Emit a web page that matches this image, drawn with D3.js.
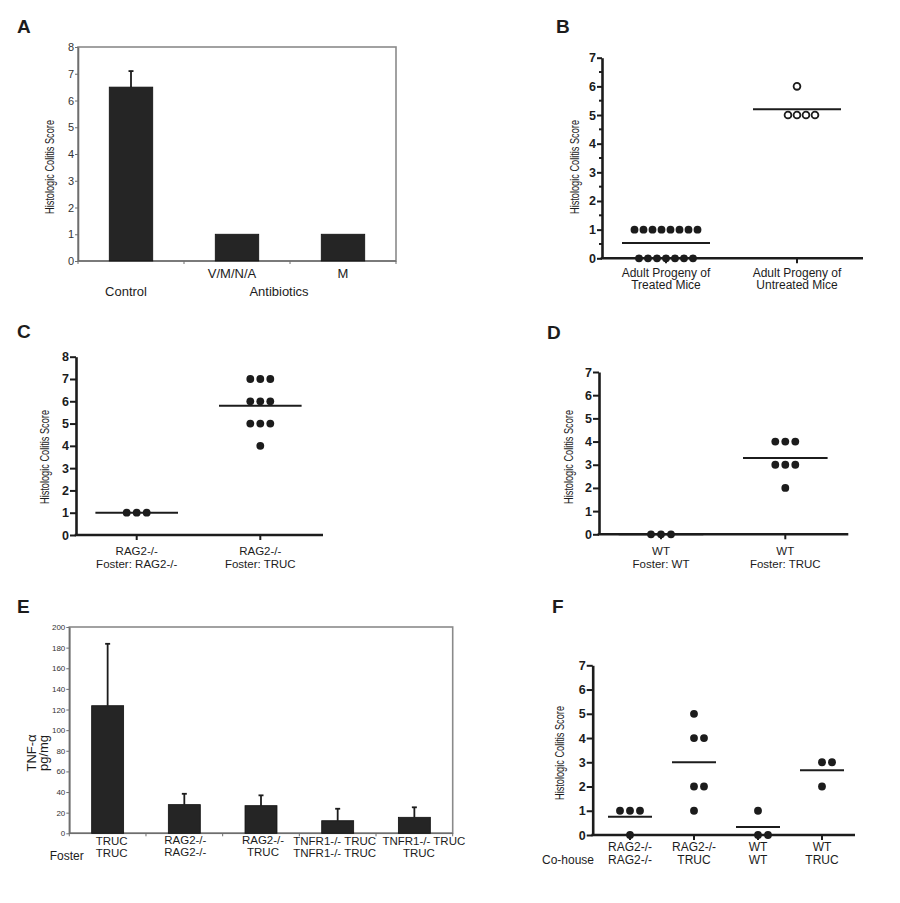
<!DOCTYPE html>
<html>
<head>
<meta charset="utf-8">
<script src="https://cdn.jsdelivr.net/npm/d3@7"></script>
<style>
  html, body { margin: 0; padding: 0; background: #fff; }
  svg { display: block; }
</style>
</head>
<body>
<svg id="chart" width="900" height="903"></svg>
<script>
// ---------------- DATA ----------------
// Panel A
const aCategories = ["Control", "V/M/N/A", "M"];
const aValues = [6.5, 1, 1];
const aErrors = [0.6, 0, 0];
const aTicks = [0, 1, 2, 3, 4, 5, 6, 7, 8];
// Panel B
const bCategories = ["Treated", "Untreated"];
const bLabels = [["Adult Progeny of", "Treated Mice"], ["Adult Progeny of", "Untreated Mice"]];
const bTreated = [1, 1, 1, 1, 1, 1, 1, 1, 0, 0, 0, 0, 0, 0, 0];
const bUntreated = [5, 5, 5, 5, 6];
const bTicks = [0, 1, 2, 3, 4, 5, 6, 7];
// Panel C
const cCategories = ["RAG2/RAG2", "RAG2/TRUC"];
const cLabels = [["RAG2-/-", "Foster: RAG2-/-"], ["RAG2-/-", "Foster: TRUC"]];
const cRag = [1, 1, 1];
const cTruc = [7, 7, 7, 6, 6, 6, 5, 5, 5, 4];
const cTicks = [0, 1, 2, 3, 4, 5, 6, 7, 8];
// Panel D
const dCategories = ["WT/WT", "WT/TRUC"];
const dLabels = [["WT", "Foster: WT"], ["WT", "Foster: TRUC"]];
const dWt = [0, 0, 0];
const dTruc = [4, 4, 4, 3, 3, 3, 2];
const dTicks = [0, 1, 2, 3, 4, 5, 6, 7];
// Panel E
const eCategories = ["TRUC|TRUC", "RAG2|RAG2", "RAG2|TRUC", "TNFR1|TNFR1", "TNFR1|TRUC"];
const eLabels = [["TRUC", "TRUC"], ["RAG2-/-", "RAG2-/-"], ["RAG2-/-", "TRUC"], ["TNFR1-/- TRUC", "TNFR1-/- TRUC"], ["TNFR1-/- TRUC", "TRUC"]];
const eValues = [123.7, 27.8, 26.8, 12.2, 15.5];
const eErrors = [60, 10.5, 10, 11.6, 9.7];
const eTicks = [0, 20, 40, 60, 80, 100, 120, 140, 160, 180, 200];
// Panel F
const fCategories = ["RAG2/RAG2", "RAG2/TRUC", "WT/WT", "WT/TRUC"];
const fLabels = [["RAG2-/-", "RAG2-/-"], ["RAG2-/-", "TRUC"], ["WT", "WT"], ["WT", "TRUC"]];
const fRagRag = [1, 1, 1, 0];
const fRagTruc = [5, 4, 4, 2, 2, 1];
const fWtWt = [1, 0, 0];
const fWtTruc = [3, 3, 2];
const fTicks = [0, 1, 2, 3, 4, 5, 6, 7];

// ---------------- DRAWING ----------------
const FONT = "'Liberation Sans', Arial, Helvetica, sans-serif";
const INK = "#1c1c1c";
const svg = d3.select("#chart");
svg.append("rect").attr("width", 900).attr("height", 903).attr("fill", "#fff");

function panelLetter(t, x, y) {
  svg.append("text").attr("x", x).attr("y", y).text(t)
    .attr("font-family", FONT).attr("font-weight", "bold").attr("font-size", 19).attr("fill", INK);
}

function rotLabel(lines, x, y, size, len) {
  lines.forEach((l, i) => {
    const t = svg.append("text")
      .attr("transform", `translate(${x[i]},${y}) rotate(-90)`)
      .attr("text-anchor", "middle").attr("dominant-baseline", "central")
      .attr("font-family", FONT).attr("font-size", size).attr("fill", INK).text(l);
    if (len) t.attr("textLength", len).attr("lengthAdjust", "spacingAndGlyphs");
  });
}

function layoutRow(values, cx, spacing) {
  const byVal = d3.group(values, v => v);
  const pts = [];
  byVal.forEach((arr, v) => {
    const n = arr.length;
    arr.forEach((_, i) => {
      const k = n >= 5 ? i - (n - 1) / 2 : i - Math.floor((n - 1) / 2);
      pts.push({ v, x: cx + k * spacing });
    });
  });
  return pts;
}

// Scatter (GraphPad-like) panel
function scatterPanel(o) {
  const y = d3.scaleLinear().domain([0, o.max]).range([o.yBottom, o.yTop]);
  const x = d3.scalePoint().domain(o.cats).range(o.catRange).padding(0);
  const g = svg.append("g");
  const ax = d3.axisLeft(y).tickValues(o.ticks).tickSize(o.tickSize).tickSizeOuter(0)
    .tickPadding(1).tickFormat(d3.format("d"));
  const ga = g.append("g").attr("transform", `translate(${o.axisX},0)`).call(ax);
  ga.select(".domain").attr("stroke", INK).attr("stroke-width", 2.6);
  ga.selectAll(".tick line").attr("stroke", INK).attr("stroke-width", 2);
  ga.selectAll(".tick text").attr("font-family", FONT).attr("font-weight", "bold")
    .attr("font-size", 12.5).attr("fill", INK);
  if (o.minor) {
    const mticks = d3.range(0.5, o.max, 1);
    g.selectAll(".minor").data(mticks).join("line")
      .attr("x1", o.axisX - 3).attr("x2", o.axisX).attr("y1", d => y(d)).attr("y2", d => y(d))
      .attr("stroke", INK).attr("stroke-width", 2);
  }
  g.append("line").attr("x1", o.axisX - 1.3).attr("x2", o.xEnd)
    .attr("y1", y(0)).attr("y2", y(0)).attr("stroke", INK).attr("stroke-width", 2.6);
  g.selectAll(".ctick").data(o.cats).join("line")
    .attr("x1", d => x(d)).attr("x2", d => x(d)).attr("y1", y(0)).attr("y2", y(0) + 5)
    .attr("stroke", INK).attr("stroke-width", 2);
  o.groups.forEach((grp, gi) => {
    const cx = x(o.cats[gi]);
    const pts = layoutRow(grp, cx, o.spacing);
    const open = o.open && o.open[gi];
    g.selectAll(null).data(pts).join("circle")
      .attr("cx", d => d.x).attr("cy", d => y(d.v)).attr("r", open ? 3.4 : 3.9)
      .attr("fill", open ? "#fff" : INK)
      .attr("stroke", INK).attr("stroke-width", open ? 1.8 : 0);
    const m = d3.mean(grp);
    g.append("line").attr("x1", cx - o.meanHalf).attr("x2", cx + o.meanHalf)
      .attr("y1", y(m)).attr("y2", y(m)).attr("stroke", INK).attr("stroke-width", 2);
  });
  o.labels.forEach((lines, i) => {
    lines.forEach((l, j) => {
      g.append("text").attr("x", x(o.cats[i])).attr("y", o.labelY[j])
        .attr("text-anchor", "middle").attr("font-family", FONT).attr("font-size", o.labelSize)
        .attr("fill", INK).text(l);
    });
  });
  rotLabel(["Histologic Colitis Score"], [o.yLabelX], o.yLabelY, 12.5, 94);
  return { x, y };
}

// Bar panel (Excel-like)
function barPanel(o) {
  const y = d3.scaleLinear().domain([0, o.max]).range([o.y1, o.y0]);
  const x = d3.scaleBand().domain(o.cats).range([o.x0, o.x1]).paddingInner(o.pad).paddingOuter(o.pad / 2);
  const g = svg.append("g");
  g.append("rect").attr("x", o.x0).attr("y", o.y0).attr("width", o.x1 - o.x0).attr("height", o.y1 - o.y0)
    .attr("fill", "none").attr("stroke", "#8a8a8a").attr("stroke-width", 1.6);
  const ax = d3.axisLeft(y).tickValues(o.ticks).tickSize(3).tickSizeOuter(0).tickPadding(1);
  const ga = g.append("g").attr("transform", `translate(${o.x0},0)`).call(ax);
  ga.select(".domain").attr("stroke", "#6e6e6e").attr("stroke-width", 1.6);
  ga.selectAll(".tick line").attr("stroke", "#6e6e6e").attr("stroke-width", 1);
  ga.selectAll(".tick text").attr("font-family", FONT).attr("font-size", o.tickFont).attr("fill", "#333");
  g.append("line").attr("x1", o.x0).attr("x2", o.x1).attr("y1", o.y1).attr("y2", o.y1)
    .attr("stroke", "#6e6e6e").attr("stroke-width", 1.6);
  const edges = d3.range(o.cats.length + 1).map(i => o.x0 + i * x.step());
  g.selectAll(".edge").data(edges).join("line")
    .attr("x1", d => d).attr("x2", d => d).attr("y1", o.y1).attr("y2", o.y1 + 3)
    .attr("stroke", "#6e6e6e").attr("stroke-width", 1);
  o.cats.forEach((c, i) => {
    if (o.errors[i] > 0) {
      const cx = x(c) + x.bandwidth() / 2;
      g.append("line").attr("x1", cx).attr("x2", cx).attr("y1", y(o.values[i]))
        .attr("y2", y(o.values[i] + o.errors[i])).attr("stroke", INK).attr("stroke-width", 1.8);
      g.append("line").attr("x1", cx - 2.5).attr("x2", cx + 2.5)
        .attr("y1", y(o.values[i] + o.errors[i])).attr("y2", y(o.values[i] + o.errors[i]))
        .attr("stroke", INK).attr("stroke-width", 1.8);
    }
  });
  g.selectAll(".bar").data(o.values).join("rect")
    .attr("x", (d, i) => x(o.cats[i])).attr("width", x.bandwidth())
    .attr("y", d => y(d)).attr("height", d => y(0) - y(d))
    .attr("fill", "#252525").attr("stroke", "#111").attr("stroke-width", 0.8);
  return { x, y };
}

// ---- Panel A ----
panelLetter("A", 17, 33);
const A = barPanel({ x0: 78, x1: 396, y0: 47, y1: 261, max: 8, cats: aCategories, values: aValues,
  errors: aErrors, ticks: aTicks, pad: 0.59, tickFont: 11 });
const aCx = c => A.x(c) + A.x.bandwidth() / 2;
[["V/M/N/A", aCx("V/M/N/A") - 5, 278], ["M", aCx("M"), 278],
 ["Control", aCx("Control") - 5, 296], ["Antibiotics", (aCx("V/M/N/A") + aCx("M")) / 2 - 11, 296]]
  .forEach(([t, xx, yy]) => svg.append("text").attr("x", xx).attr("y", yy).attr("text-anchor", "middle")
    .attr("font-family", FONT).attr("font-size", 13).attr("fill", INK).text(t));
rotLabel(["Histologic Colitis Score"], [50], 167, 12.5, 94);

// ---- Panel B ----
panelLetter("B", 556, 33);
scatterPanel({ axisX: 602, xEnd: 863, yTop: 57.7, yBottom: 258.3, max: 7, ticks: bTicks,
  cats: bCategories, catRange: [666, 797], groups: [bTreated, bUntreated], open: [false, true],
  spacing: 9, meanHalf: 44, tickSize: 5, minor: true, labels: bLabels, labelY: [276.5, 289],
  labelSize: 12, yLabelX: 575, yLabelY: 167 });

// ---- Panel C ----
panelLetter("C", 17, 338);
scatterPanel({ axisX: 76, xEnd: 323, yTop: 356.7, yBottom: 535, max: 8, ticks: cTicks,
  cats: cCategories, catRange: [136.7, 260.3], groups: [cRag, cTruc],
  spacing: 10, meanHalf: 41.3, tickSize: 6, minor: false, labels: cLabels, labelY: [555, 567.5],
  labelSize: 11.5, yLabelX: 45, yLabelY: 457 });

// ---- Panel D ----
panelLetter("D", 547, 339);
scatterPanel({ axisX: 599, xEnd: 848.3, yTop: 372, yBottom: 534.3, max: 7, ticks: dTicks,
  cats: dCategories, catRange: [661, 785.3], groups: [dWt, dTruc],
  spacing: 10, meanHalf: 42.3, tickSize: 6, minor: false, labels: dLabels, labelY: [555, 567.5],
  labelSize: 11.5, yLabelX: 569, yLabelY: 457 });

// ---- Panel E ----
panelLetter("E", 17, 613);
const E = barPanel({ x0: 69.3, x1: 452.7, y0: 627, y1: 833.3, max: 200, cats: eCategories, values: eValues,
  errors: eErrors, ticks: eTicks, pad: 0.583, tickFont: 8 });
const eShift = [[4, 4], [1, 1], [2, 2], [-3, -3], [9.5, 4.5]];
eLabels.forEach((lines, i) => {
  const cx = E.x(eCategories[i]) + E.x.bandwidth() / 2;
  lines.forEach((l, j) => {
    svg.append("text").attr("x", cx + eShift[i][j]).attr("y", [845, 857][j] - (i === 1 || i === 2 ? 1.5 : 0))
      .attr("text-anchor", "middle").attr("font-family", FONT).attr("font-size", 11.5).attr("fill", INK).text(l);
  });
});
svg.append("text").attr("x", 66.7).attr("y", 860).attr("text-anchor", "middle")
  .attr("font-family", FONT).attr("font-size", 12).attr("fill", INK).text("Foster");
rotLabel(["TNF-α", "pg/mg"], [31.5, 43.5], 753, 13);

// ---- Panel F ----
panelLetter("F", 552, 613);
scatterPanel({ axisX: 592.7, xEnd: 855, yTop: 665.3, yBottom: 835, max: 7, ticks: fTicks,
  cats: fCategories, catRange: [630, 822], groups: [fRagRag, fRagTruc, fWtWt, fWtTruc],
  spacing: 10, meanHalf: 22, tickSize: 6, minor: false, labels: fLabels, labelY: [851, 863.5],
  labelSize: 12, yLabelX: 560, yLabelY: 753 });
svg.append("text").attr("x", 568).attr("y", 863.5).attr("text-anchor", "middle")
  .attr("font-family", FONT).attr("font-size", 12).attr("fill", INK).text("Co-house");
</script>
</body>
</html>
